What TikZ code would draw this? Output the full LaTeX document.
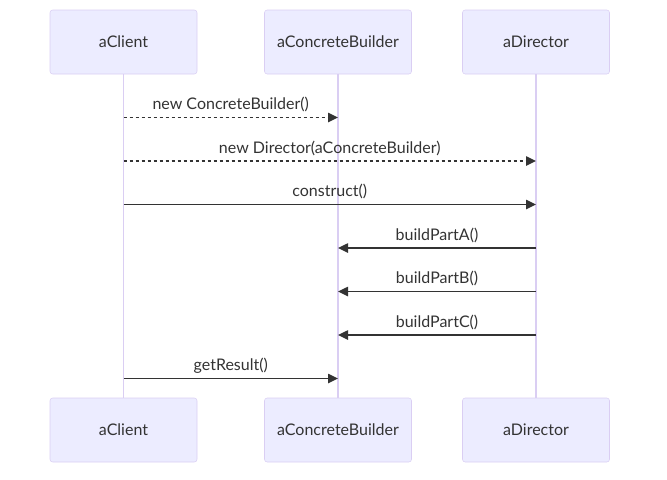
\documentclass[tikz,border=0pt]{standalone}
\usepackage{fontspec}
\setmainfont{Lato}
\usetikzlibrary{arrows.meta}
\definecolor{actorfill}{HTML}{ECECFF}
\definecolor{actorline}{HTML}{DACEF3}
\definecolor{msgcol}{HTML}{333333}

\begin{document}
\begin{tikzpicture}[x=0.75pt,y=-0.75pt,>={Triangle[length=7.5pt,width=7pt]},
	actor/.style={draw=actorline,fill=actorfill,rounded corners=2pt,
		minimum width=110.25pt,minimum height=48pt,inner sep=0pt,
		text=msgcol,font=\fontsize{12}{14}\selectfont},
	lifeline/.style={draw=actorline,line width=1pt},
	msg/.style={->,draw=msgcol,line width=1.1pt},
	msgdash/.style={msg,dash pattern=on 2.25pt off 2.25pt},
	msglabel/.style={midway,yshift=9.75pt,inner sep=0pt,text=msgcol,
		font=\fontsize{12}{14}\selectfont}]
		\useasboundingbox (0,0) rectangle (667,479);
		% actors, top and bottom
		\node[actor] (ct) at (123.5,42) {aClient};
		\node[actor] (bt) at (338,42) {aConcreteBuilder};
		\node[actor] (dt) at (536,42) {aDirector};
		\node[actor] (cb) at (123.5,430) {aClient};
		\node[actor] (bb) at (338,430) {aConcreteBuilder};
		\node[actor] (db) at (536,430) {aDirector};
		\draw[lifeline] (ct) -- (cb);
		\draw[lifeline] (bt) -- (bb);
		\draw[lifeline] (dt) -- (db);
		% message rows
		\coordinate (r1) at (0,117.5);
		\coordinate (r2) at (0,161);
		\coordinate (r3) at (0,204.5);
		\coordinate (r4) at (0,248);
		\coordinate (r5) at (0,291.5);
		\coordinate (r6) at (0,335);
		\coordinate (r7) at (0,378.5);
		\draw[msgdash] (ct |- r1) -- (bt |- r1)
		node[msglabel] {new ConcreteBuilder()};
		\draw[msgdash] (ct |- r2) -- (dt |- r2)
		node[msglabel] {new Director(aConcreteBuilder)};
		\draw[msg] (ct |- r3) -- (dt |- r3)
		node[msglabel] {construct()};
		\draw[msg] (dt |- r4) -- (bt |- r4)
		node[msglabel] {buildPartA()};
		\draw[msg] (dt |- r5) -- (bt |- r5)
		node[msglabel] {buildPartB()};
		\draw[msg] (dt |- r6) -- (bt |- r6)
		node[msglabel] {buildPartC()};
		\draw[msg] (ct |- r7) -- (bt |- r7)
		node[msglabel] {getResult()};
	\end{tikzpicture}
\end{document}
